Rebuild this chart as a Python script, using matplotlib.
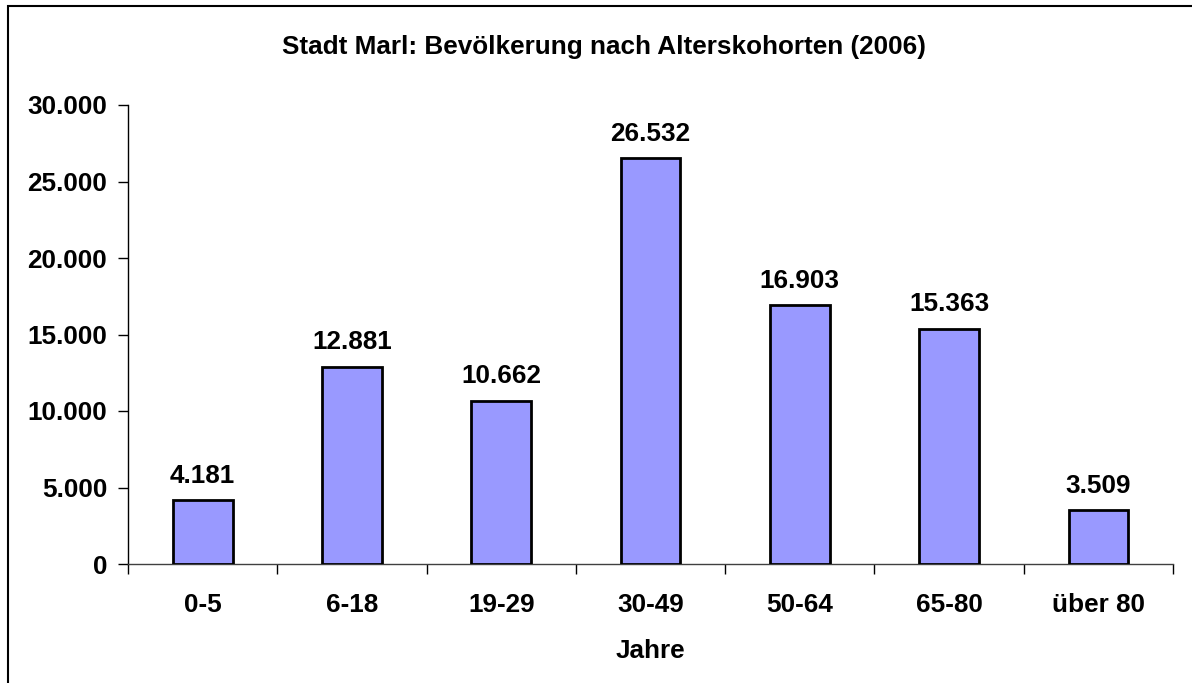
import matplotlib
matplotlib.use("Agg")
import matplotlib.pyplot as plt
from matplotlib.patches import Rectangle
from matplotlib.ticker import FuncFormatter, FixedLocator

categories = ["0-5", "6-18", "19-29", "30-49", "50-64", "65-80", "über 80"]
values = [4181, 12881, 10662, 26532, 16903, 15363, 3509]
yticks = [0, 5000, 10000, 15000, 20000, 25000, 30000]

plt.rcParams['font.family'] = ['Liberation Sans', 'DejaVu Sans']
plt.rcParams['font.weight'] = 'bold'
FS = 18.8

def fmt(v):
    return f"{int(v):,}".replace(",", ".")

fig = plt.figure(figsize=(11.92, 6.83), dpi=100)
ax = fig.add_axes([128/1192, 1-564/683, (1173-128)/1192, (564-105)/683])

x = list(range(len(categories)))
ax.bar(x, values, width=0.4, color="#9999FF", edgecolor="black", linewidth=2, zorder=3)
for xi, v in zip(x, values):
    ax.annotate(fmt(v), (xi, v), xytext=(0, 9), textcoords="offset points",
                ha="center", va="bottom", fontsize=FS, fontweight="bold")

ax.set_xlim(-0.5, len(categories) - 0.5)
ax.set_ylim(0, 30000)
ax.set_yticks(yticks)
ax.yaxis.set_major_formatter(FuncFormatter(lambda v, p: fmt(v)))
ax.set_xticks(x)
ax.set_xticklabels(categories)
ax.xaxis.set_minor_locator(FixedLocator([i + 0.5 for i in range(-1, len(categories))]))
ax.tick_params(axis="x", which="major", length=0, pad=21, labelsize=FS)
ax.tick_params(axis="x", which="minor", length=7, direction="out", width=1)
ax.tick_params(axis="y", length=7, width=1, direction="out", labelsize=FS, pad=8)
for lbl in ax.get_xticklabels() + ax.get_yticklabels():
    lbl.set_fontweight("bold")
ax.spines["top"].set_visible(False)
ax.spines["right"].set_visible(False)
ax.spines["left"].set_linewidth(1)
ax.spines["bottom"].set_linewidth(1)
ax.spines["bottom"].set_color("#404040")

ax.set_xlabel("Jahre", fontsize=FS, fontweight="bold", labelpad=16)
fig.text(0.5 + 8 / 1192, 1 - 47/683, "Stadt Marl: Bevölkerung nach Alterskohorten (2006)",
         ha="center", va="center", fontsize=FS, fontweight="bold")

fig.patches.append(Rectangle((8/1192, -0.1), 1.2, 1 - 6/683 + 0.1, transform=fig.transFigure,
                             fill=False, edgecolor="black", linewidth=1.5))

fig.savefig("out.png", dpi=100)
